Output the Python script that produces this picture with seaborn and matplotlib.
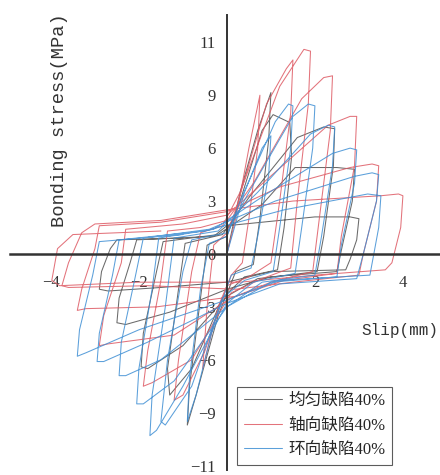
import numpy as np
import pandas as pd
import matplotlib
matplotlib.use("Agg")
import matplotlib.pyplot as plt
import seaborn as sns

# series names (legend order) and colours
groups = ["均匀缺陷40%", "轴向缺陷40%", "环向缺陷40%"]
colors = ["#505050", "#de5a64", "#3f8fd4"]

# uniform defect: slip (mm) / bond stress, read cycle by cycle
uniform_slip = [0, 0.3, 0.7, 1.0, 0.95, 0.75, 0.6, 0.2, -0.2, -0.7, -0.9, -0.85, -0.6, -0.45, 0.0,
                0.3, 0.8, 1.05, 1.43, 1.47, 1.3, 1.15, 0.4, -0.1, -0.8, -1.3, -1.35, -1.1, -0.95, -0.1,
                0.5, 1.6, 2.2, 2.45, 2.42, 2.2, 2.05, 0.7, 0.0, -1.0, -1.8, -1.95, -1.9, -1.6, -1.45, -0.2,
                0.8, 1.55, 2.5, 2.9, 2.85, 2.6, 2.5, 1.0, 0.0, -1.3, -2.3, -2.5, -2.45, -2.2, -2.05, -0.3,
                0.0, 2.0, 2.8, 3.0, 2.95, 2.8, 2.7, 1.0, 0.0, -1.5, -2.7, -2.9, -2.85, -2.65, -2.5, -1.0]
uniform_stress = [0, 3.5, 7.0, 9.15, 6.5, 2.0, -0.6, -1.0, -3.5, -8.0, -9.7, -7.5, -2.5, 0.5, 1.0,
                  3.0, 7.0, 7.9, 7.45, 5.5, 1.5, -0.9, -1.3, -2.5, -6.5, -8.0, -6.5, -2.0, 0.6, 1.1,
                  3.2, 6.6, 7.2, 7.1, 5.0, 1.0, -1.0, -1.4, -2.4, -5.2, -6.5, -6.4, -4.5, -1.0, 0.7, 1.1,
                  2.8, 4.9, 4.9, 4.8, 3.0, 0.2, -1.0, -1.3, -2.0, -3.3, -4.0, -3.9, -2.5, -0.5, 0.8, 1.0,
                  1.6, 2.1, 2.1, 2.0, 0.8, -0.3, -0.9, -1.0, -1.6, -1.9, -2.1, -2.0, -1.0, 0.3, 0.8, 0.9]

# axial defect
axial_slip = [0, 0.2, 0.5, 0.75, 0.7, 0.5, 0.35, 0.1, -0.2, -0.55, -0.45, -0.3, 0.0,
              0.2, 0.9, 1.35, 1.5, 1.45, 1.2, 1.0, 0.5, 0.0, -0.5, -1.0, -1.2, -1.1, -0.8, -0.6, -0.1,
              0.3, 1.2, 1.75, 1.9, 1.85, 1.6, 1.45, 0.8, 0.1, -0.8, -1.7, -1.9, -1.8, -1.5, -1.35, -0.6, 0.0,
              0.6, 1.7, 2.2, 2.4, 2.35, 2.1, 1.95, 1.0, 0.1, -1.2, -2.7, -2.9, -2.8, -2.4, -2.3, -1.0, 0.0,
              0.9, 2.3, 2.8, 2.95, 2.9, 2.6, 2.5, 1.3, 0.2, -1.6, -3.2, -3.4, -3.3, -3.0, -2.9, -1.5, 0.0,
              1.2, 2.8, 3.3, 3.45, 3.4, 3.1, 3.0, 1.5, 0.2, -1.8, -3.6, -3.75, -3.6, -3.3, -3.0, -1.5, 0.0,
              1.5, 3.5, 3.9, 4.0, 3.95, 3.75, 3.6, 2.0, 0.3, -2.0, -3.8, -3.98, -3.85, -3.5, -1.5]
axial_stress = [0, 2.0, 6.0, 9.0, 6.0, 2.0, -0.5, -1.2, -3.0, -6.5, -3.0, 0.5, 1.2,
                2.5, 8.5, 10.5, 11.0, 8.0, 3.0, -0.5, -1.3, -1.8, -5.5, -8.0, -8.3, -6.0, -1.0, 1.2, 1.6,
                3.5, 9.5, 11.6, 11.5, 8.5, 3.0, -0.8, -1.4, -2.2, -6.0, -7.3, -7.5, -5.5, -1.5, 1.3, 1.5, 1.9,
                4.0, 8.8, 10.0, 10.1, 7.0, 2.0, -1.0, -1.6, -2.5, -4.6, -5.1, -5.2, -3.5, -0.5, 1.4, 1.7, 2.2,
                4.2, 7.3, 7.8, 7.8, 5.0, 1.0, -1.1, -1.5, -2.4, -3.0, -3.1, -3.2, -2.0, 0.3, 1.6, 1.8, 2.4,
                3.8, 4.9, 5.1, 5.0, 3.0, 0.0, -1.2, -1.6, -2.0, -1.8, -1.9, -1.8, -0.5, 1.2, 1.7, 1.9, 2.5,
                3.0, 3.3, 3.4, 3.3, 1.5, -0.5, -0.9, -1.2, -1.6, -1.6, -1.8, -1.5, 0.3, 1.1, 1.3]

# hoop defect
hoop_slip = [0, 0.4, 0.8, 1.0, 0.95, 0.7, 0.55, 0.1, -0.3, -0.7, -0.9, -0.85, -0.6, -0.4, 0.0,
             0.3, 1.1, 1.4, 1.5, 1.45, 1.2, 1.05, 0.4, -0.1, -0.8, -1.4, -1.5, -1.35, -1.0, -0.8, 0.0,
             0.5, 1.5, 1.85, 2.0, 1.95, 1.7, 1.55, 0.6, 0.0, -1.0, -1.6, -1.75, -1.7, -1.4, -1.2, -0.2,
             0.7, 1.9, 2.3, 2.45, 2.4, 2.15, 2.0, 0.8, 0.0, -1.2, -1.9, -2.05, -2.0, -1.7, -1.55, -0.3,
             0.9, 2.4, 2.8, 2.95, 2.9, 2.6, 2.5, 1.0, 0.0, -1.5, -2.3, -2.45, -2.4, -2.1, -1.9, -0.4,
             1.1, 2.9, 3.3, 3.45, 3.4, 3.1, 2.95, 1.2, 0.0, -1.8, -2.8, -2.95, -2.9, -2.6, -2.45, -0.5,
             1.3, 3.2, 3.5, 3.45, 3.25, 1.2, 0.0, -2.0, -3.2, -3.4, -3.35, -3.05, -2.9, -1.0]
hoop_stress = [0, 3.5, 6.0, 6.7, 4.5, 1.0, -0.8, -1.2, -4.0, -8.0, -9.5, -7.0, -2.0, 0.6, 1.0,
               3.0, 7.5, 8.5, 8.4, 6.0, 1.5, -1.0, -1.5, -2.5, -7.5, -9.7, -9.5, -6.0, -1.0, 0.8, 1.2,
               3.5, 7.8, 8.5, 8.4, 6.0, 1.5, -1.1, -1.6, -2.8, -7.5, -10.0, -10.3, -8.0, -3.0, 0.9, 1.3,
               3.5, 6.8, 7.3, 7.2, 5.0, 1.0, -1.2, -1.6, -3.0, -7.2, -8.5, -8.5, -6.5, -2.0, 0.9, 1.4,
               3.4, 5.7, 6.0, 5.9, 4.0, 0.5, -1.3, -1.6, -3.0, -6.0, -6.9, -6.9, -5.0, -1.5, 0.9, 1.4,
               3.0, 4.4, 4.6, 4.5, 3.0, 0.0, -1.4, -1.7, -2.8, -5.0, -6.1, -6.1, -4.5, -1.2, 0.8, 1.3,
               2.5, 3.4, 3.3, 1.5, -1.2, -1.5, -2.6, -4.3, -5.6, -5.8, -4.3, -1.2, 0.7, 1.1]

x_ticks = [-4, -2, 2, 4]
y_ticks = [-12, -9, -6, -3, 0, 3, 6, 9, 12]
y_tick_labels = ["\u221211", "\u22129", "\u22126", "\u22123", "0", "3", "6", "9", "11"]

frames = []
for name, xs, ys in [(groups[0], uniform_slip, uniform_stress),
                     (groups[1], axial_slip, axial_stress),
                     (groups[2], hoop_slip, hoop_stress)]:
    frames.append(pd.DataFrame({"slip": xs, "stress": ys, "group": name,
                                "order": np.arange(len(xs))}))
data = pd.concat(frames, ignore_index=True)

sns.set_style("white")
plt.rcParams["font.family"] = ["Liberation Serif", "Noto Sans CJK SC"]

fig = plt.figure(figsize=(4.4, 4.75), dpi=100)
ax = fig.add_axes([0.0227, 0.0105, 0.977, 0.958])

sns.lineplot(data=data, x="slip", y="stress", hue="group", hue_order=groups,
             palette=dict(zip(groups, colors)), sort=False, estimator=None,
             linewidth=0.75, alpha=0.85, ax=ax)

ax.set_xlim(-4.93, 4.84)
ax.set_ylim(-12.25, 13.55)
for side in ["top", "right"]:
    ax.spines[side].set_visible(False)
ax.spines["left"].set_position(("data", 0))
ax.spines["bottom"].set_position(("data", 0))
ax.spines["left"].set_linewidth(1.4)
ax.spines["bottom"].set_linewidth(1.8)
ax.spines["left"].set_color("#333333")
ax.spines["bottom"].set_color("#333333")

ax.set_xticks(x_ticks)
ax.set_xticklabels([str(v).replace("-", "\u2212") for v in x_ticks])
ax.set_yticks(y_ticks)
ax.set_yticklabels(y_tick_labels)
ax.tick_params(axis="y", direction="out", length=6, width=1.2, pad=2,
               labelsize=12, colors="#333333")
ax.tick_params(axis="x", direction="out", length=6, width=1.2, pad=9,
               labelsize=12, colors="#333333")
ax.set_xlabel("")
ax.set_ylabel("")

fig.text(60 / 440, 1 - 120 / 475, "Bonding stress(MPa)", rotation=90,
         ha="center", va="center", fontsize=13.5, family="Liberation Mono",
         color="#333333")
fig.text(438 / 440, 1 - 330 / 475, "Slip(mm)", ha="right", va="center",
         fontsize=11.5, family="Liberation Mono", color="#333333")

sns.move_legend(ax, "lower left", bbox_to_anchor=(0.528, 0.012), title=None,
                frameon=True, fancybox=False, edgecolor="#333333",
                borderaxespad=0, handlelength=2.3, handletextpad=0.4,
                borderpad=0.4, labelspacing=0.5,
                prop={"family": ["Liberation Serif", "Noto Sans CJK SC"], "size": 12})
ax.get_legend().get_frame().set_linewidth(0.8)

fig.savefig("out.png", dpi=100)
